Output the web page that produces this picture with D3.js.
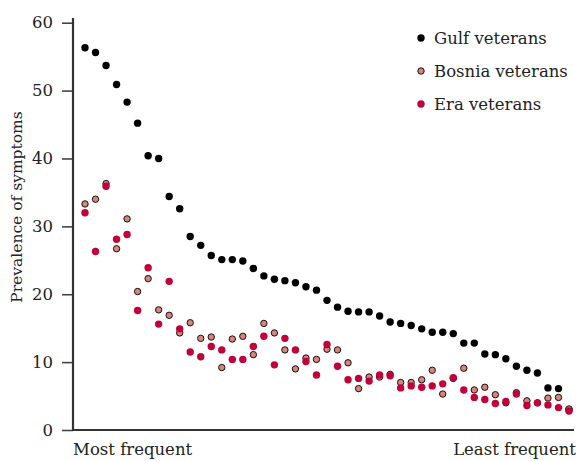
<!DOCTYPE html>
<html>
<head>
<meta charset="utf-8">
<script src="https://cdn.jsdelivr.net/npm/d3@7"></script>
<style>
  body { margin: 0; background: #fff; }
  text { font-family: "DejaVu Serif", "Liberation Serif", serif; fill: #222; }
</style>
</head>
<body>
<div id="vis"></div>
<script>
// symptom prevalence (%), sorted by Gulf veterans
const GULF = [56.3, 55.6, 53.7, 50.9, 48.3, 45.2, 40.4, 40.0, 34.4, 32.6,
  28.5, 27.2, 25.7, 25.1, 25.1, 24.9, 23.8, 22.7, 22.2, 22.0,
  21.7, 21.1, 20.6, 19.1, 18.1, 17.5, 17.4, 17.4, 16.8, 15.9,
  15.7, 15.4, 14.9, 14.4, 14.4, 14.2, 12.8, 12.8, 11.2, 11.1,
  10.5, 9.4, 8.8, 8.4, 6.2, 6.1, 3.0];
const BOSNIA = [33.3, 34.0, 36.3, 26.7, 31.1, 20.4, 22.3, 17.7, 16.9, 14.3,
  15.8, 13.5, 13.7, 9.2, 13.4, 13.8, 11.1, 15.7, 14.3, 11.8,
  9.0, 10.6, 10.4, 11.9, 11.8, 9.9, 6.1, 7.8, 7.8, 8.2,
  7.0, 7.0, 7.4, 8.8, 5.3, 7.6, 9.1, 5.9, 6.3, 5.2,
  4.0, 5.5, 4.3, 4.0, 4.7, 4.8, 3.1];
const ERA = [32.0, 26.3, 35.9, 28.1, 28.8, 17.6, 23.9, 15.6, 21.9, 14.9,
  11.5, 10.8, 12.3, 11.8, 10.4, 10.4, 12.3, 13.8, 9.6, 13.5,
  11.8, 10.1, 8.1, 12.6, 9.4, 7.4, 7.6, 7.2, 8.1, 8.0,
  6.2, 6.5, 6.3, 6.5, 6.8, 7.7, 5.9, 4.8, 4.5, 3.9,
  4.2, 5.3, 3.6, 4.0, 3.7, 3.3, 2.8];

const SERIES_NAMES = ["Gulf veterans", "Bosnia veterans", "Era veterans"];
const Y_TICKS = [0, 10, 20, 30, 40, 50, 60];

const WIDTH = 585, HEIGHT = 461;
const FONT_SIZE = 16.5;
const svg = d3.select("#vis").append("svg")
  .attr("width", WIDTH).attr("height", HEIGHT);

const X_SCALE = d3.scaleLinear().domain([0, GULF.length - 1]).range([85, 569]);
const Y_SCALE = d3.scaleLinear().domain([0, 60]).range([430, 22.7]);

// y axis
const yAxis = svg.append("g")
  .attr("transform", "translate(73,0)")
  .call(d3.axisLeft(Y_SCALE).tickValues(Y_TICKS).tickSize(11).tickPadding(9));
yAxis.select(".domain").remove();
yAxis.selectAll(".tick line").attr("stroke", "#444").attr("stroke-width", 1.6);
yAxis.selectAll(".tick text")
  .attr("font-size", FONT_SIZE)
  .attr("font-family", "DejaVu Serif, serif")
  .attr("fill", "#222");

// axis lines
svg.append("line").attr("x1", 73).attr("x2", 73).attr("y1", 18).attr("y2", 431)
  .attr("stroke", "#333").attr("stroke-width", 2.2);
svg.append("line").attr("x1", 72).attr("x2", 574).attr("y1", 430).attr("y2", 430)
  .attr("stroke", "#333").attr("stroke-width", 2.2);

// x axis end labels
svg.append("text").attr("x", 73).attr("y", 455).attr("font-size", FONT_SIZE).text("Most frequent");
svg.append("text").attr("x", 576).attr("y", 455).attr("font-size", FONT_SIZE)
  .attr("text-anchor", "end").text("Least frequent");

// y label
svg.append("text")
  .attr("transform", "translate(22,207) rotate(-90)")
  .attr("text-anchor", "middle").attr("font-size", 15.5)
  .text("Prevalence of symptoms");

const styles = [
  { data: GULF, fill: "#000", stroke: "none" },
  { data: BOSNIA, fill: "#d9847a", stroke: "#111" },
  { data: ERA, fill: "#c2003a", stroke: "none" }
];

styles.forEach((s) => {
  svg.append("g").selectAll("circle")
    .data(s.data)
    .enter()
    .append("circle")
    .attr("cx", (d, i) => X_SCALE(i))
    .attr("cy", (d) => Y_SCALE(d))
    .attr("r", s.stroke === "none" ? 3.7 : 3.2)
    .attr("fill", s.fill)
    .attr("stroke", s.stroke)
    .attr("stroke-width", 1);
});

// legend
const legend = svg.append("g");
SERIES_NAMES.forEach((name, i) => {
  const y = 38 + i * 33;
  legend.append("circle").attr("cx", 421).attr("cy", y)
    .attr("r", i === 1 ? 3.2 : 3.7)
    .attr("fill", styles[i].fill).attr("stroke", styles[i].stroke);
  legend.append("text").attr("x", 434).attr("y", y + 6)
    .attr("font-size", FONT_SIZE).text(name);
});
</script>
</body>
</html>
